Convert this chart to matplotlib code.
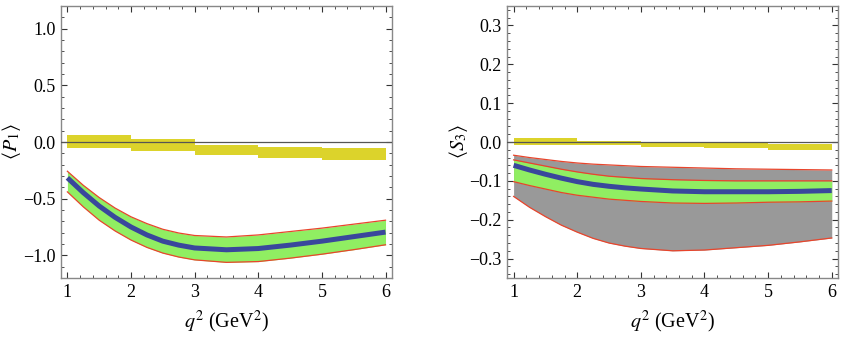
import matplotlib
matplotlib.use("Agg")
import matplotlib.pyplot as plt
from matplotlib.ticker import MultipleLocator, FuncFormatter

plt.rcParams['font.family'] = ['Liberation Serif', 'DejaVu Serif']
plt.rcParams['mathtext.fontset'] = 'stix'

# ---- data ----
q2 = [1, 1.25, 1.5, 1.75, 2, 2.25, 2.5, 2.75, 3, 3.5, 4, 4.5, 5, 5.5, 6]

# left panel <P1>
p1_upper = [-0.258, -0.382, -0.49, -0.583, -0.66, -0.72, -0.77, -0.803, -0.825,
            -0.838, -0.82, -0.79, -0.76, -0.725, -0.69]
p1_central = [-0.316, -0.447, -0.565, -0.665, -0.75, -0.82, -0.875, -0.91, -0.935,
              -0.951, -0.94, -0.91, -0.875, -0.835, -0.795]
p1_lower = [-0.44, -0.572, -0.69, -0.785, -0.865, -0.93, -0.98, -1.015, -1.04,
            -1.062, -1.055, -1.025, -0.99, -0.95, -0.907]

bin_lo = [1, 2, 3, 4, 5]
bin_hi = [2, 3, 4, 5, 6]
p1_bin_top = [0.064, 0.029, -0.024, -0.044, -0.053]
p1_bin_bot = [-0.053, -0.082, -0.111, -0.144, -0.155]

# right panel <S3>
s3_outer_upper = [-0.034, -0.040, -0.045, -0.050, -0.054, -0.057, -0.059, -0.061, -0.063,
                  -0.065, -0.067, -0.069, -0.070, -0.071, -0.072]
s3_upper = [-0.046, -0.054, -0.062, -0.070, -0.077, -0.083, -0.088, -0.091, -0.094,
            -0.097, -0.099, -0.100, -0.100, -0.100, -0.100]
s3_central = [-0.060, -0.072, -0.083, -0.093, -0.102, -0.109, -0.114, -0.118, -0.121,
              -0.126, -0.128, -0.128, -0.128, -0.127, -0.125]
s3_lower = [-0.102, -0.112, -0.121, -0.130, -0.137, -0.142, -0.147, -0.150, -0.153,
            -0.157, -0.158, -0.157, -0.155, -0.154, -0.152]
s3_outer_lower = [-0.140, -0.168, -0.192, -0.214, -0.232, -0.248, -0.260, -0.268, -0.274,
                  -0.280, -0.278, -0.272, -0.266, -0.257, -0.247]

s3_bin_top = [0.0093, 0.0034, 0.0008, -0.0036, -0.0052]
s3_bin_bot = [-0.0088, -0.0088, -0.013, -0.0165, -0.0217]

xticks = [1, 2, 3, 4, 5, 6]

YELLOW = '#dcd32b'
GREEN = '#90ee62'
BLUE = '#3a479c'
GRAY = '#999999'
RED = '#e8452c'

fig = plt.figure(figsize=(8.44, 3.43), dpi=100)
axL = fig.add_axes([0.0723, 0.1895, 0.392, 0.793])
axR = fig.add_axes([0.601, 0.1895, 0.392, 0.793])

fmt = FuncFormatter(lambda v, p: f"{v:.1f}".replace('-', '\u2212'))


def style(ax, ylim, ymaj, ymin, ylabel, ylab_x):
    ax.set_xlim(0.9, 6.1)
    ax.set_ylim(*ylim)
    ax.set_xticks(xticks)
    ax.xaxis.set_minor_locator(MultipleLocator(0.2))
    ax.yaxis.set_major_locator(MultipleLocator(ymaj))
    ax.yaxis.set_minor_locator(MultipleLocator(ymin))
    ax.yaxis.set_major_formatter(fmt)
    ax.tick_params(which='both', direction='in', top=True, right=True,
                   labelsize=13, color='#333333', pad=4)
    ax.tick_params(which='major', length=4, width=0.8)
    ax.tick_params(which='minor', length=2, width=0.6)
    for s in ax.spines.values():
        s.set_color('#888888')
        s.set_linewidth(1.0)
    ax.set_xlabel(r'$q^2$ (GeV$^2$)', fontsize=14.5, labelpad=6)
    ax.set_ylabel(ylabel, fontsize=14.5)
    ax.yaxis.set_label_coords(ylab_x, 0.5)


def bins(ax, top, bot):
    for lo, hi, t, b in zip(bin_lo, bin_hi, top, bot):
        ax.bar((lo + hi) / 2, t - b, bottom=b, width=hi - lo, color=YELLOW,
               linewidth=0, zorder=2)
    ax.axhline(0, color='#555555', lw=0.9, zorder=3)


# left
bins(axL, p1_bin_top, p1_bin_bot)
axL.fill_between(q2, p1_lower, p1_upper, color=GREEN, lw=0, zorder=4)
axL.plot(q2, p1_upper, color=RED, lw=0.9, zorder=5)
axL.plot(q2, p1_lower, color=RED, lw=0.9, zorder=5)
axL.plot(q2, p1_central, color=BLUE, lw=3.6, zorder=6, solid_capstyle='butt')
style(axL, (-1.2, 1.2), 0.5, 0.1, r'$\langle P_1\rangle$', -0.115)

# right
bins(axR, s3_bin_top, s3_bin_bot)
axR.fill_between(q2, s3_outer_lower, s3_outer_upper, color=GRAY, lw=0, zorder=4)
axR.fill_between(q2, s3_lower, s3_upper, color=GREEN, lw=0, zorder=4.5)
for arr in (s3_outer_upper, s3_upper, s3_lower, s3_outer_lower):
    axR.plot(q2, arr, color=RED, lw=0.9, zorder=5)
axR.plot(q2, s3_central, color=BLUE, lw=3.6, zorder=6, solid_capstyle='butt')
style(axR, (-0.35, 0.35), 0.1, 0.02, r'$\langle S_3\rangle$', -0.113)

fig.savefig('out.png', dpi=100)
